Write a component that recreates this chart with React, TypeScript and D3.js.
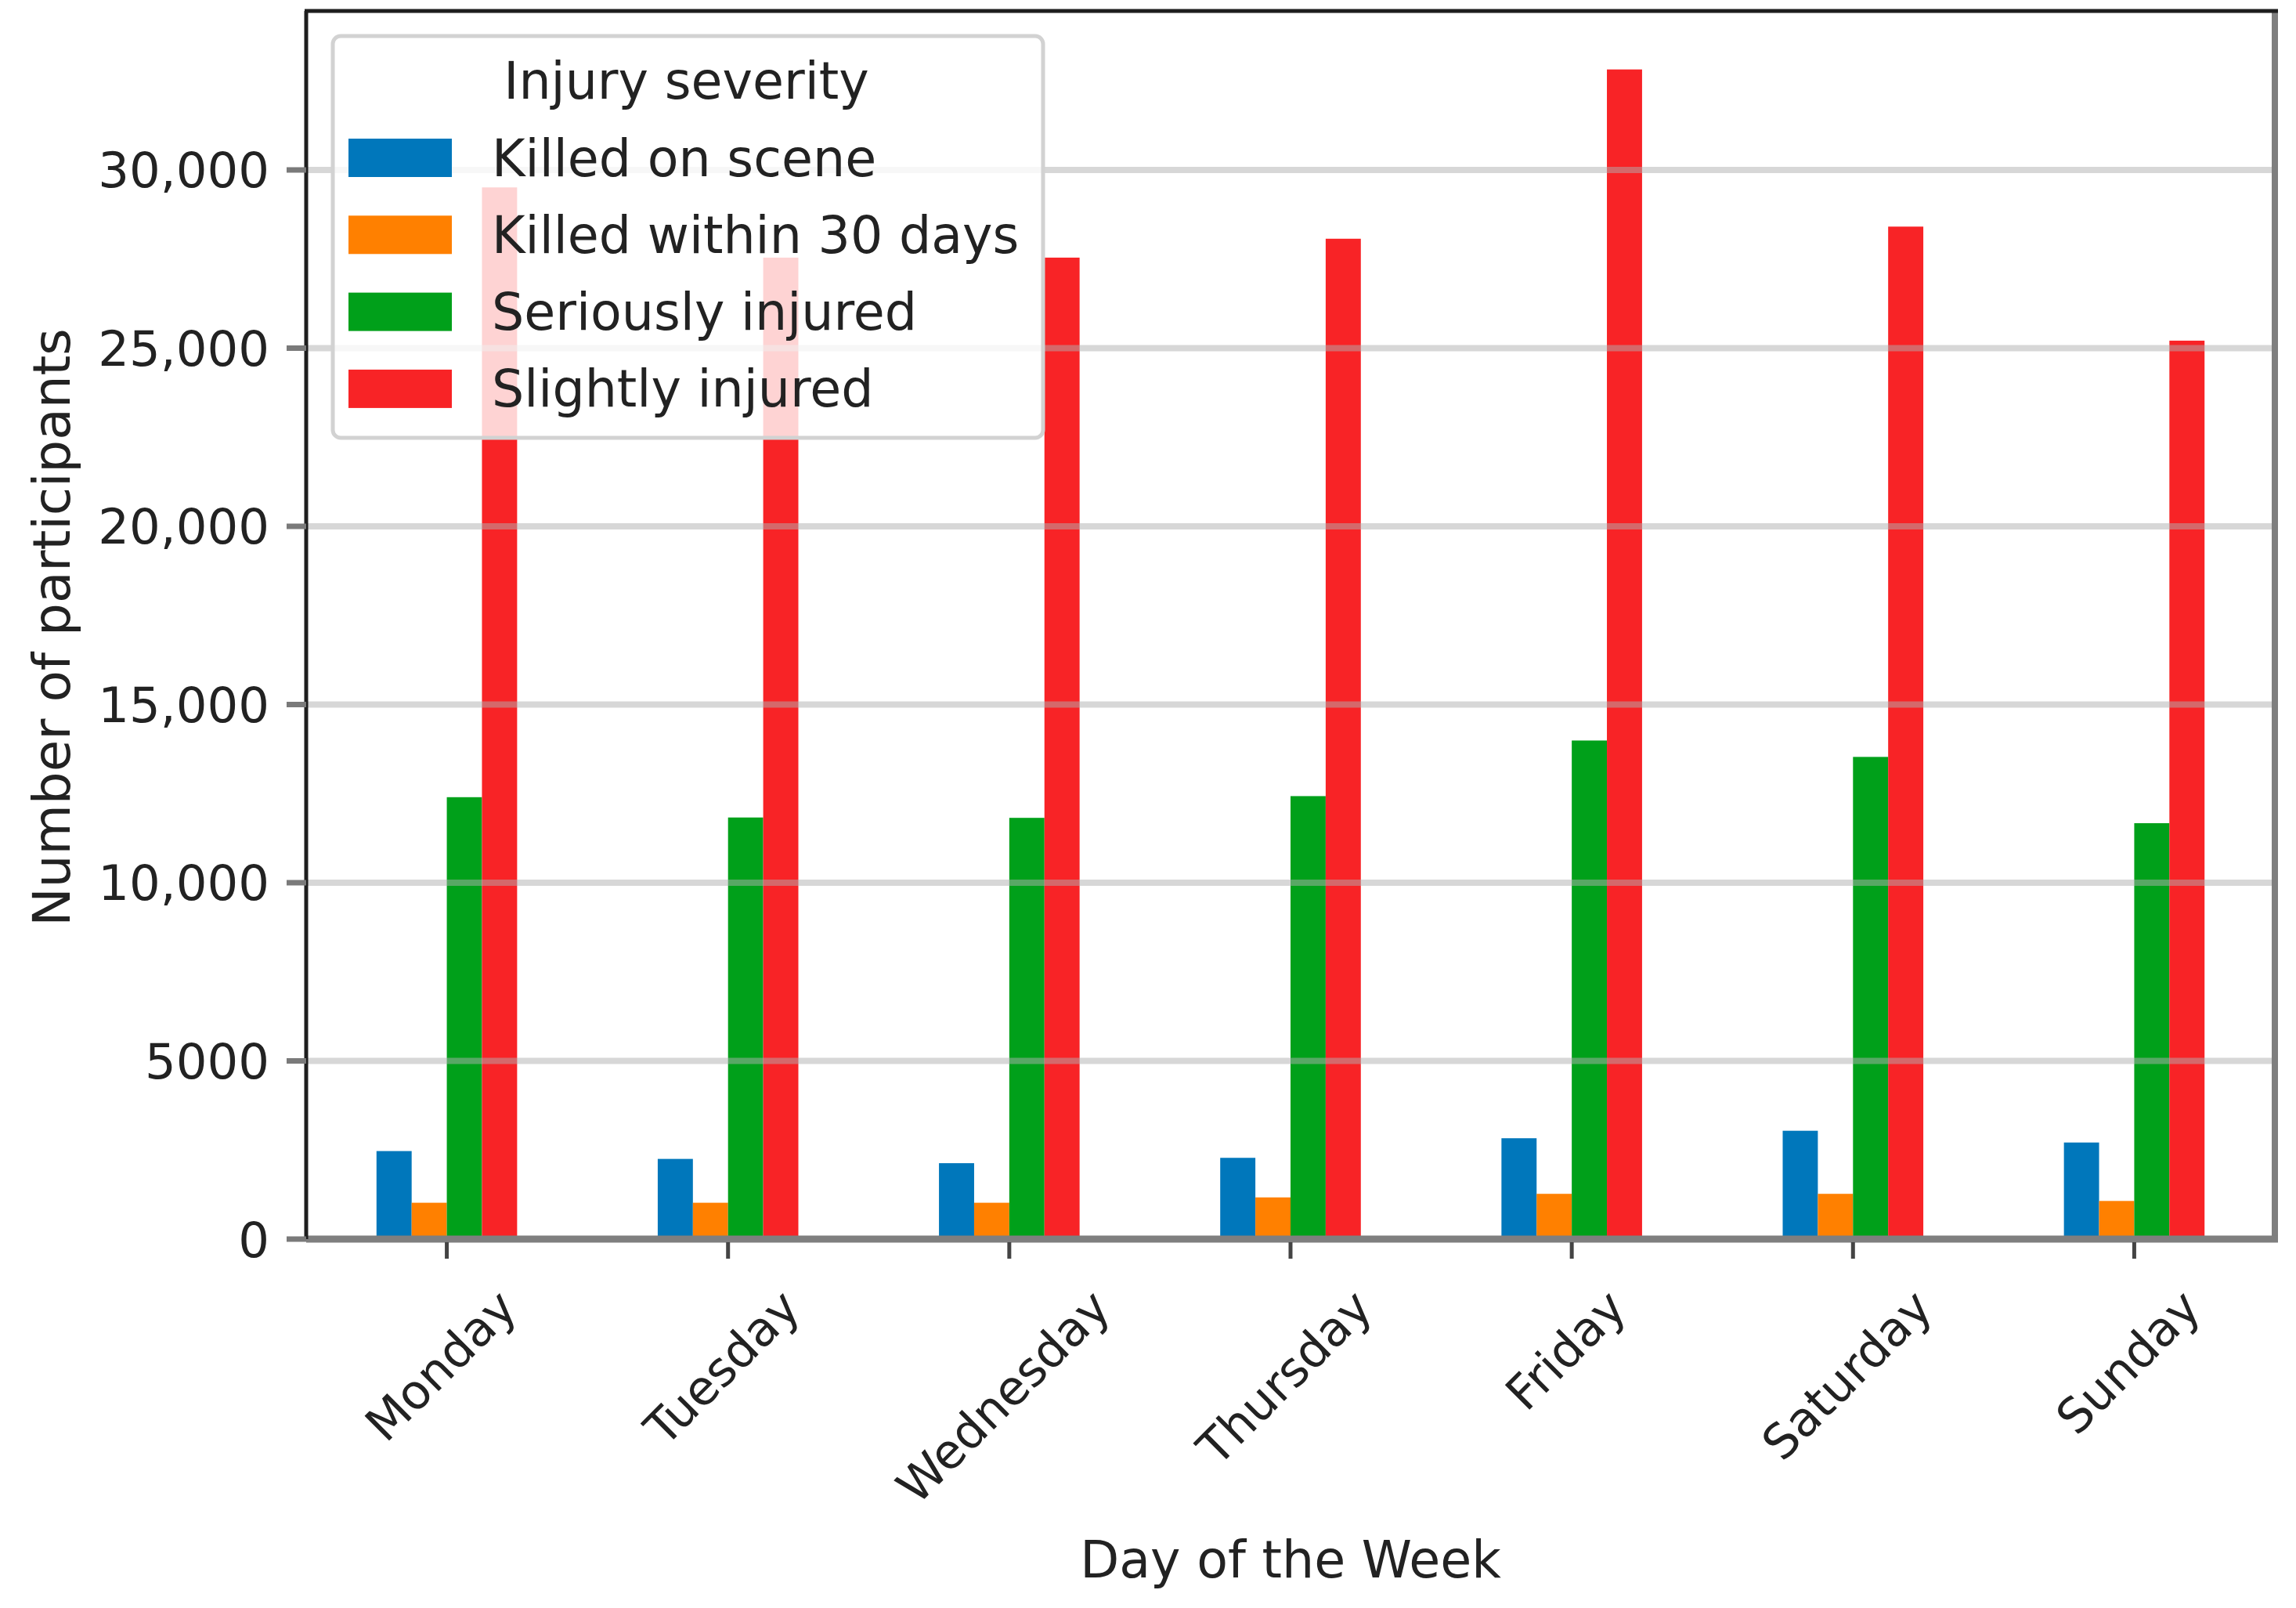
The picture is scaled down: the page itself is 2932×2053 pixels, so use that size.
import { useEffect, useRef } from "react"
import * as d3 from "d3"

// Data
const days = ["Monday", "Tuesday", "Wednesday", "Thursday", "Friday", "Saturday", "Sunday"]
const severities = ["Killed on scene", "Killed within 30 days", "Seriously injured", "Slightly injured"]
const killedOnScene = [2470, 2250, 2130, 2280, 2830, 3040, 2710]
const killedWithin30Days = [1020, 1020, 1020, 1170, 1270, 1270, 1070]
const seriouslyInjured = [12400, 11830, 11820, 12430, 13990, 13530, 11670]
const slightlyInjured = [29510, 27540, 27540, 28070, 32820, 28410, 25210]
const yTickValues = [0, 5000, 10000, 15000, 20000, 25000, 30000]
const yTickLabels = ["0", "5000", "10,000", "15,000", "20,000", "25,000", "30,000"]
const colors = ["#0077bb", "#ff8000", "#00a01a", "#f82326"]

const W = 2932
const H = 2053
const FONT = "DejaVu Sans, sans-serif"
const TEXT = "#222222"

export default function App() {
  const svgRef = useRef<SVGSVGElement>(null)

  useEffect(() => {
    if (!svgRef.current) return
    document.body.style.margin = "0"

    const root = d3.select(svgRef.current)
    root.selectAll("*").remove()

    const series = [killedOnScene, killedWithin30Days, seriouslyInjured, slightlyInjured]
    const plot = { left: 391, right: 2905, top: 14, bottom: 1582 }

    // x is the day index, like matplotlib's categorical positions
    const x = d3.scaleLinear().domain([-0.5, days.length - 0.5]).range([plot.left, plot.right])
    const yMax = (d3.max(series.flat()) as number) * 1.05
    const y = d3.scaleLinear().domain([0, yMax]).range([plot.bottom, plot.top])

    const barW = 0.5 / severities.length

    root.append("rect").attr("width", W).attr("height", H).attr("fill", "#ffffff")

    // Bars
    series.forEach((values, si) => {
      root
        .append("g")
        .selectAll("rect")
        .data(values)
        .enter()
        .append("rect")
        .attr("x", (_d, i) => x(i - 0.25 + si * barW))
        .attr("width", x(barW) - x(0))
        .attr("y", (d) => y(d))
        .attr("height", (d) => y(0) - y(d))
        .attr("fill", colors[si])
    })

    // Horizontal grid drawn over the bars
    root
      .append("g")
      .selectAll("line")
      .data(yTickValues)
      .enter()
      .append("line")
      .attr("x1", plot.left)
      .attr("x2", plot.right)
      .attr("y1", (d) => y(d))
      .attr("y2", (d) => y(d))
      .attr("stroke", "#b0b0b0")
      .attr("stroke-opacity", 0.5)
      .attr("stroke-width", 8)

    // Spines
    const spines = root.append("g")
    spines.append("line").attr("x1", plot.right).attr("x2", plot.right).attr("y1", plot.top).attr("y2", plot.bottom)
      .attr("stroke", "#7f7f7f").attr("stroke-width", 8)
    spines.append("line").attr("x1", plot.left).attr("x2", plot.right + 4).attr("y1", plot.bottom).attr("y2", plot.bottom)
      .attr("stroke", "#7f7f7f").attr("stroke-width", 9)
    spines.append("line").attr("x1", plot.left).attr("x2", plot.left).attr("y1", plot.top).attr("y2", plot.bottom)
      .attr("stroke", "#1e1e1e").attr("stroke-width", 5)
    spines.append("line").attr("x1", plot.left - 2).attr("x2", plot.right + 4).attr("y1", plot.top).attr("y2", plot.top)
      .attr("stroke", "#1e1e1e").attr("stroke-width", 5)

    // Y axis ticks and labels
    const yAxis = root.append("g")
    yTickValues.forEach((v, i) => {
      yAxis.append("line").attr("x1", plot.left - 25).attr("x2", plot.left).attr("y1", y(v)).attr("y2", y(v))
        .attr("stroke", "#7a7a7a").attr("stroke-width", 7)
      yAxis.append("text")
        .attr("x", plot.left - 47)
        .attr("y", y(v))
        .attr("dy", "0.36em")
        .attr("text-anchor", "end")
        .attr("font-family", FONT)
        .attr("font-size", 62.5)
        .attr("fill", TEXT)
        .text(yTickLabels[i])
    })

    // X axis ticks and rotated labels
    const xAxis = root.append("g")
    const fs = 61
    days.forEach((day, i) => {
      const cx = x(i)
      xAxis.append("line").attr("x1", cx).attr("x2", cx).attr("y1", plot.bottom + 4).attr("y2", plot.bottom + 25)
        .attr("stroke", "#444444").attr("stroke-width", 5)
      const t = xAxis.append("text")
        .attr("text-anchor", "middle")
        .attr("dominant-baseline", "central")
        .attr("font-family", FONT)
        .attr("font-size", fs)
        .attr("fill", TEXT)
        .text(day)
      const w = (t.node() as SVGTextElement).getComputedTextLength()
      const half = (w + fs * 1.164) / (2 * Math.SQRT2)
      const lx = cx - 8
      const ly = plot.bottom + 51 + half
      t.attr("transform", `translate(${lx},${ly}) rotate(-45)`)
    })

    // Axis titles
    root.append("text")
      .attr("x", (plot.left + plot.right) / 2)
      .attr("y", 2014)
      .attr("text-anchor", "middle")
      .attr("font-family", FONT)
      .attr("font-size", 65)
      .attr("fill", TEXT)
      .text("Day of the Week")

    root.append("text")
      .attr("transform", `translate(89,801) rotate(-90)`)
      .attr("text-anchor", "middle")
      .attr("font-family", FONT)
      .attr("font-size", 66)
      .attr("fill", TEXT)
      .text("Number of participants")

    // Legend
    const legend = root.append("g")
    const lg = { x: 425, y: 46, w: 907, h: 513 }
    legend.append("rect")
      .attr("x", lg.x).attr("y", lg.y).attr("width", lg.w).attr("height", lg.h)
      .attr("rx", 10)
      .attr("fill", "#ffffff").attr("fill-opacity", 0.8)
      .attr("stroke", "#d2d2d2").attr("stroke-width", 5)
    legend.append("text")
      .attr("x", lg.x + lg.w / 2 - 2)
      .attr("y", 126)
      .attr("text-anchor", "middle")
      .attr("font-family", FONT)
      .attr("font-size", 65)
      .attr("fill", TEXT)
      .text("Injury severity")

    const row = d3.scaleLinear().domain([0, 1]).range([201.5, 299.8])
    severities.forEach((name, i) => {
      legend.append("rect")
        .attr("x", 445).attr("y", row(i) - 24.5).attr("width", 132).attr("height", 49)
        .attr("fill", colors[i])
      legend.append("text")
        .attr("x", 628)
        .attr("y", row(i) + 23)
        .attr("font-family", FONT)
        .attr("font-size", 65)
        .attr("fill", TEXT)
        .text(name)
    })
  }, [])

  return (
    <svg ref={svgRef} width={W} height={H} viewBox={`0 0 ${W} ${H}`} style={{ display: "block" }}></svg>
  )
}
